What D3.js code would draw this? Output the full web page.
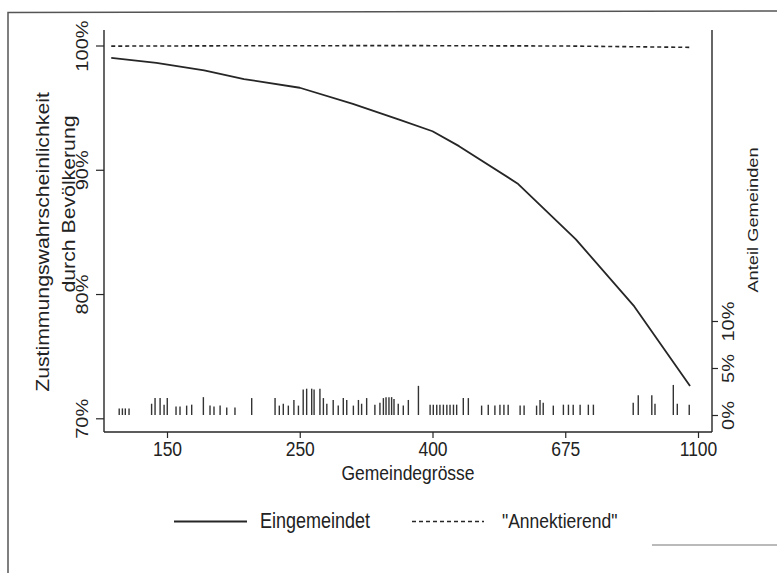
<!DOCTYPE html>
<html>
<head>
<meta charset="utf-8">
<script src="https://cdn.jsdelivr.net/npm/d3@7"></script>
<style>
  body { margin: 0; background: #fff; }
  svg { display: block; }
  text { font-family: "Liberation Sans", Arial, Helvetica, sans-serif; fill: #222; }
</style>
</head>
<body>
<svg id="chart" width="777" height="573"></svg>
<script>
// x is ln(Gemeindegrösse); ticks are labelled with the rounded sizes
var xTickVals = [5, 5.5, 6, 6.5, 7];
var xTickLabels = ["150", "250", "400", "675", "1100"];
var yTickVals = [0.7, 0.8, 0.9, 1.0];
var y2TickVals = [0, 0.05, 0.10];

// predicted approval, "Eingemeindet"
var eingLn   = [4.79, 4.96, 5.14, 5.29, 5.50, 5.70, 5.88, 6.00, 6.10, 6.32, 6.54, 6.76, 6.97];
var eingProb = [0.990, 0.986, 0.980, 0.973, 0.966, 0.953, 0.940, 0.931, 0.919, 0.889, 0.844, 0.790, 0.726];

// predicted approval, "Annektierend"
var annLn   = [4.79, 5.30, 5.90, 6.50, 6.97];
var annProb = [0.9995, 0.9998, 0.9999, 0.9996, 0.9985];

// share of municipalities (spike histogram)
var histLn = [4.820, 4.832, 4.843, 4.857, 4.942, 4.955, 4.974, 4.989, 5.001, 5.034,
              5.049, 5.074, 5.093, 5.137, 5.162, 5.177, 5.200, 5.225, 5.256, 5.319,
              5.407, 5.423, 5.438, 5.457, 5.478, 5.495, 5.513, 5.526, 5.545, 5.554,
              5.576, 5.589, 5.602, 5.626, 5.645, 5.664, 5.677, 5.702, 5.721, 5.733,
              5.752, 5.783, 5.802, 5.815, 5.825, 5.836, 5.846, 5.855, 5.871, 5.890,
              5.909, 5.947, 5.991, 6.003, 6.016, 6.028, 6.041, 6.054, 6.066, 6.079,
              6.091, 6.116, 6.135, 6.185, 6.210, 6.235, 6.254, 6.269, 6.285, 6.330,
              6.345, 6.392, 6.405, 6.417, 6.455, 6.493, 6.512, 6.530, 6.556, 6.587,
              6.606, 6.756, 6.775, 6.826, 6.838, 6.907, 6.922, 6.967];
var histPct = [0.007, 0.007, 0.007, 0.007, 0.012, 0.018, 0.018, 0.011, 0.018, 0.009,
               0.009, 0.010, 0.011, 0.019, 0.010, 0.009, 0.010, 0.008, 0.008, 0.018,
               0.018, 0.010, 0.012, 0.010, 0.016, 0.010, 0.027, 0.028, 0.028, 0.027,
               0.028, 0.018, 0.012, 0.016, 0.010, 0.018, 0.016, 0.010, 0.016, 0.012,
               0.018, 0.011, 0.013, 0.018, 0.019, 0.019, 0.019, 0.017, 0.012, 0.010,
               0.016, 0.031, 0.011, 0.011, 0.011, 0.011, 0.011, 0.011, 0.011, 0.011,
               0.011, 0.018, 0.018, 0.010, 0.011, 0.010, 0.011, 0.011, 0.011, 0.010,
               0.010, 0.010, 0.016, 0.013, 0.010, 0.011, 0.011, 0.011, 0.011, 0.011,
               0.011, 0.013, 0.021, 0.021, 0.012, 0.032, 0.012, 0.011];

var legendLabels = ["Eingemeindet", "\"Annektierend\""];

var svg = d3.select("#chart");
var INK = "#262626";
var STRETCH = 1.18;   // the scan is taller than wide, glyphs look stretched vertically

var plotL = 104, plotR = 712, plotT = 30, plotB = 432;

var x = d3.scaleLinear().domain([5, 7]).range([167, 698]);
var y = d3.scaleLinear().domain([0.7, 1.0]).range([418.3, 45.5]);
var y2 = d3.scaleLinear().domain([0, 0.10]).range([415, 321]);

// horizontal text, stretched upward from its baseline
function hText(px, py, size, str, anchor) {
    return svg.append("text")
        .attr("transform", "translate(" + px + "," + py + ") scale(1," + STRETCH + ")")
        .attr("text-anchor", anchor || "start")
        .style("font-size", size + "px")
        .text(str);
}
// text turned to read bottom-up, stretched along its length
function vText(px, py, size, str) {
    return svg.append("text")
        .attr("transform", "translate(" + px + "," + py + ") rotate(-90) scale(" + STRETCH + ",1)")
        .attr("text-anchor", "middle")
        .style("font-size", size + "px")
        .text(str);
}

// outer frame of the scanned figure
svg.append("path")
    .attr("d", "M8,573 L8,12.5 L777,11")
    .attr("fill", "none").attr("stroke", "#555").attr("stroke-width", 1.5);
svg.append("line")
    .attr("x1", 652).attr("x2", 777).attr("y1", 545).attr("y2", 545)
    .attr("stroke", "#777").attr("stroke-width", 1.2);

// axis lines
var axisG = svg.append("g").attr("stroke", INK).attr("stroke-width", 1.4);
axisG.append("line").attr("x1", plotL).attr("x2", plotL).attr("y1", plotT).attr("y2", plotB);
axisG.append("line").attr("x1", plotR).attr("x2", plotR).attr("y1", plotT).attr("y2", plotB);
axisG.append("line").attr("x1", plotL).attr("x2", plotR).attr("y1", plotB).attr("y2", plotB);

// left axis
var gl = svg.append("g").attr("transform", "translate(" + plotL + ",0)")
    .call(d3.axisLeft(y).tickValues(yTickVals).tickSize(8).tickFormat(d3.format(".0%")));
gl.select(".domain").remove();
gl.selectAll(".tick line").attr("stroke", INK).attr("stroke-width", 1.2);
gl.selectAll(".tick text")
    .attr("x", null).attr("dy", null)
    .attr("transform", "translate(-16,0) rotate(-90) scale(" + STRETCH + ",1)")
    .attr("text-anchor", "middle")
    .style("font-size", "17px").style("font-family", null).attr("fill", INK);

// right axis
var gr = svg.append("g").attr("transform", "translate(" + plotR + ",0)")
    .call(d3.axisRight(y2).tickValues(y2TickVals).tickSize(6).tickFormat(d3.format(".0%")));
gr.select(".domain").remove();
gr.selectAll(".tick line").attr("stroke", INK).attr("stroke-width", 1.2);
gr.selectAll(".tick text")
    .attr("x", null).attr("dy", null)
    .attr("transform", "translate(22,0) rotate(-90) scale(" + STRETCH + ",1)")
    .attr("text-anchor", "middle")
    .style("font-size", "17px").style("font-family", null).attr("fill", INK);

// bottom axis
var gb = svg.append("g").attr("transform", "translate(0," + plotB + ")")
    .call(d3.axisBottom(x).tickValues(xTickVals).tickSize(6)
        .tickFormat(function (d, i) { return xTickLabels[i]; }));
gb.select(".domain").remove();
gb.selectAll(".tick line").attr("stroke", INK).attr("stroke-width", 1.2);
gb.selectAll(".tick text")
    .attr("y", null).attr("dy", null)
    .attr("transform", "translate(0,24) scale(1," + STRETCH + ")")
    .style("font-size", "17.5px").style("font-family", null).attr("fill", INK);

// axis titles
vText(49, 242, 18, "Zustimmungswahrscheinlichkeit");
vText(75, 204, 18, "durch Bevölkerung");
vText(758, 220, 15.5, "Anteil Gemeinden");
hText((plotL + plotR) / 2, 480, 17.5, "Gemeindegrösse", "middle");

// spikes
svg.append("g").selectAll("line")
    .data(d3.range(histLn.length))
    .enter().append("line")
    .attr("x1", function (i) { return x(histLn[i]); })
    .attr("x2", function (i) { return x(histLn[i]); })
    .attr("y1", y2(0))
    .attr("y2", function (i) { return y2(histPct[i]); })
    .attr("stroke", "#333").attr("stroke-width", 1.4);

// lines
var lineGen = d3.line()
    .x(function (d) { return x(d[0]); })
    .y(function (d) { return y(d[1]); });

svg.append("path")
    .datum(d3.zip(annLn, annProb))
    .attr("d", lineGen)
    .attr("fill", "none").attr("stroke", INK).attr("stroke-width", 1.6)
    .attr("stroke-dasharray", "4,3");

svg.append("path")
    .datum(d3.zip(eingLn, eingProb))
    .attr("d", lineGen)
    .attr("fill", "none").attr("stroke", INK).attr("stroke-width", 1.8)
    .attr("stroke-linejoin", "round");

// legend
var leg = svg.append("g");
leg.append("line").attr("x1", 174).attr("x2", 247).attr("y1", 521.5).attr("y2", 521.5)
    .attr("stroke", INK).attr("stroke-width", 1.8);
hText(260, 528, 18, legendLabels[0]);
leg.append("line").attr("x1", 412).attr("x2", 484).attr("y1", 521.5).attr("y2", 521.5)
    .attr("stroke", INK).attr("stroke-width", 1.6).attr("stroke-dasharray", "4,3");
hText(502, 528, 17.5, legendLabels[1]);
</script>
</body>
</html>
